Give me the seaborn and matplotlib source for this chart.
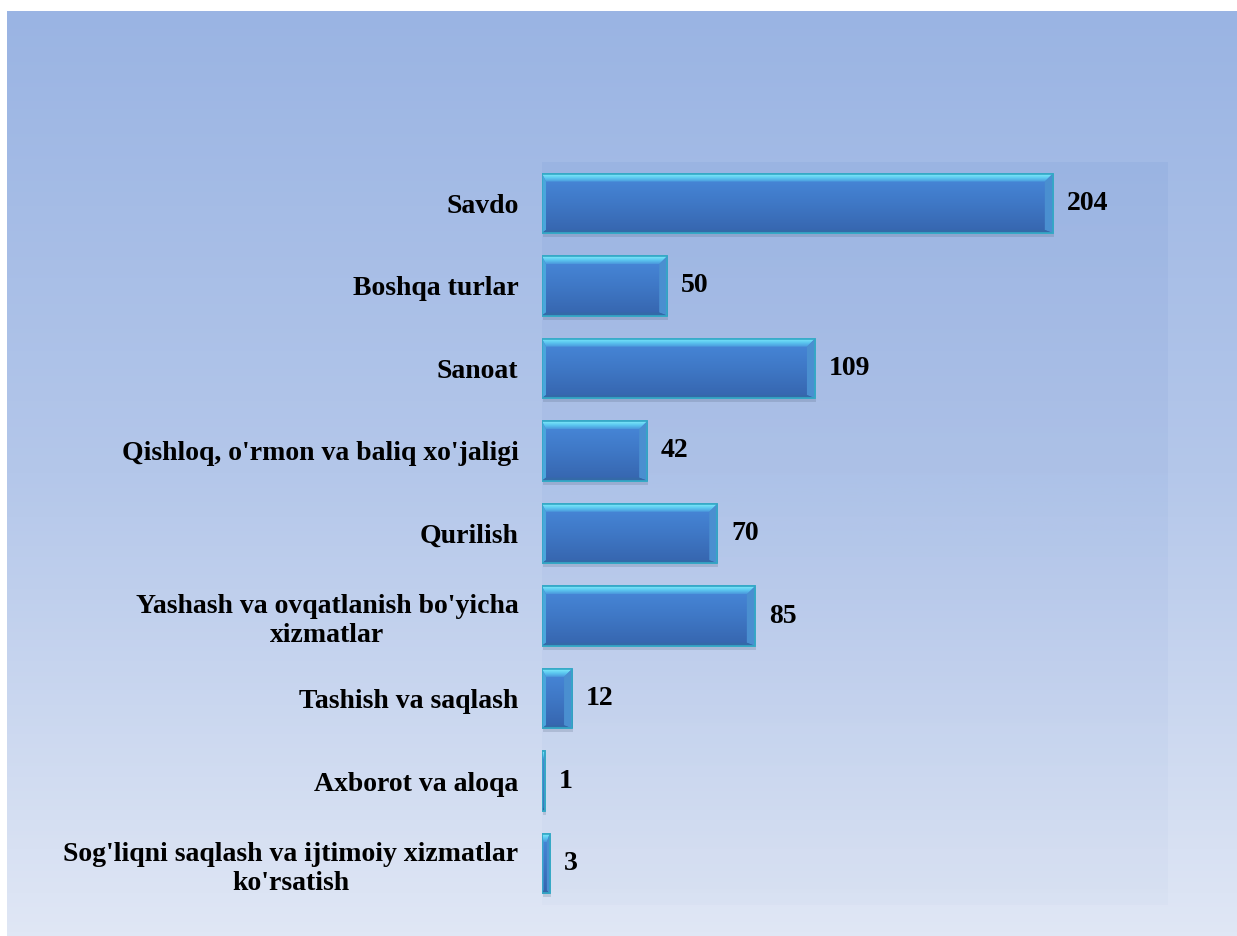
import numpy as np
import pandas as pd
import matplotlib
matplotlib.use("Agg")
import matplotlib.pyplot as plt
import seaborn as sns
from matplotlib.patches import Polygon, Rectangle
from matplotlib.colors import LinearSegmentedColormap

categories = [
    "Savdo",
    "Boshqa turlar",
    "Sanoat",
    "Qishloq, o'rmon va baliq xo'jaligi",
    "Qurilish",
    "Yashash va ovqatlanish bo'yicha\nxizmatlar",
    "Tashish va saqlash",
    "Axborot va aloqa",
    "Sog'liqni saqlash va ijtimoiy xizmatlar\nko'rsatish",
]
values = [204, 50, 109, 42, 70, 85, 12, 1, 3]

df = pd.DataFrame({"cat": categories, "val": values})

sns.set_theme(style="white")
plt.rcParams["font.family"] = ["Liberation Serif", "DejaVu Serif"]

W, H = 1237, 936
fig = plt.figure(figsize=(W / 100, H / 100), dpi=100)
fig.patch.set_facecolor("white")

# background gradient panel
bg = fig.add_axes([7 / W, 0, 1 - 7 / W, 1 - 11 / H], zorder=0)
grad = np.linspace(0, 1, 256).reshape(-1, 1)
bg_cmap = LinearSegmentedColormap.from_list("bg", ["#9ab4e3", "#b4c7ea", "#e0e7f5"])
bg.imshow(grad, aspect="auto", cmap=bg_cmap, extent=(0, 1, 0, 1), origin="upper")
bg.set_axis_off()

ax_l, ax_r = 542 / W, 1168 / W
ax_t, ax_b = 1 - 162 / H, 1 - 905 / H
ax = fig.add_axes([ax_l, ax_b, ax_r - ax_l, ax_t - ax_b], zorder=1)
ax.set_facecolor((1, 1, 1, 0))

sns.barplot(data=df, x="val", y="cat", orient="h", width=0.72,
            color="#4079c8", edgecolor="#34a9c6", linewidth=1.2,
            saturation=1, ax=ax, zorder=3)

XMAX = 250
ax.set_xlim(0, XMAX)
ax.set_ylim(len(categories) - 0.5, -0.5)

# subtle plot-area tint (stronger at top, fading toward bottom)
tint = np.zeros((256, 1, 4))
tint[..., 0] = 0.35
tint[..., 1] = 0.50
tint[..., 2] = 0.80
tint[:, 0, 3] = np.linspace(0.10, 0.03, 256)
ax.imshow(tint, aspect="auto", extent=(0, 1, 0, 1), origin="upper",
          transform=ax.transAxes, zorder=0.5)

ax_w_px = (ax_r - ax_l) * W
ax_h_px = (ax_t - ax_b) * H
px_x = XMAX / ax_w_px
px_y = len(categories) / ax_h_px

face_cmap = LinearSegmentedColormap.from_list("face", ["#4889da", "#3f78c6", "#3665ae"])
top_cmap = LinearSegmentedColormap.from_list("top", ["#80ecfa", "#5cc8f0", "#4a96dc"])

for p in list(ax.patches):
    x0 = p.get_x()
    w = p.get_width()
    x1 = x0 + w
    y0 = p.get_y()
    y1 = y0 + p.get_height()
    # shadow
    sh = Rectangle((x0 + 1 * px_x, y0 + 4 * px_y), w, p.get_height(),
                   facecolor="#556680", alpha=0.22, edgecolor="none", zorder=2)
    ax.add_patch(sh)
    # face gradient
    im = ax.imshow(grad, aspect="auto", cmap=face_cmap, extent=(x0, x1, y1, y0),
                   origin="upper", zorder=3.1)
    im.set_clip_path(p)
    wpx = w / px_x
    bt = 8 * px_y
    bb = 3 * px_y
    br = min(8, wpx * 0.35) * px_x
    bl = min(4, wpx * 0.2) * px_x
    top = Polygon([(x0, y0), (x1, y0), (x1 - br, y0 + bt), (x0 + bl, y0 + bt)],
                  closed=True, facecolor="none", edgecolor="none", zorder=3.2)
    ax.add_patch(top)
    imt = ax.imshow(grad, aspect="auto", cmap=top_cmap, extent=(x0, x1, y0 + bt, y0),
                    origin="upper", zorder=3.2)
    imt.set_clip_path(top)
    right = Polygon([(x1, y0), (x1, y1), (x1 - br, y1 - bb), (x1 - br, y0 + bt)],
                    closed=True, facecolor="#4a8fd0", edgecolor="none", zorder=3.2)
    left = Polygon([(x0, y0), (x0 + bl, y0 + bt), (x0 + bl, y1 - bb), (x0, y1)],
                   closed=True, facecolor="#4aa6dc", edgecolor="none", zorder=3.2)
    bottom = Polygon([(x0, y1), (x1, y1), (x1 - br, y1 - bb), (x0 + bl, y1 - bb)],
                     closed=True, facecolor="#346aa8", edgecolor="none", zorder=3.2)
    for poly in (right, left, bottom):
        ax.add_patch(poly)
    outline = Rectangle((x0, y0), w, p.get_height(), facecolor="none",
                        edgecolor="#34a9c6", linewidth=1.2, zorder=3.3)
    ax.add_patch(outline)

ax.set_xlim(0, XMAX)
ax.set_ylim(len(categories) - 0.5, -0.5)

FS = 20
ax.bar_label(ax.containers[0], labels=[str(v) for v in values], padding=10,
             fontsize=FS, fontweight="bold", color="black")

ax.set_xlabel("")
ax.set_ylabel("")
ax.set_xticks([])
ax.tick_params(axis="y", length=0, pad=17)
for lab in ax.get_yticklabels():
    lab.set_fontsize(FS)
    lab.set_fontweight("bold")
    lab.set_color("black")
    lab.set_multialignment("center")
for s in ax.spines.values():
    s.set_visible(False)

fig.savefig("out.png", dpi=100)
